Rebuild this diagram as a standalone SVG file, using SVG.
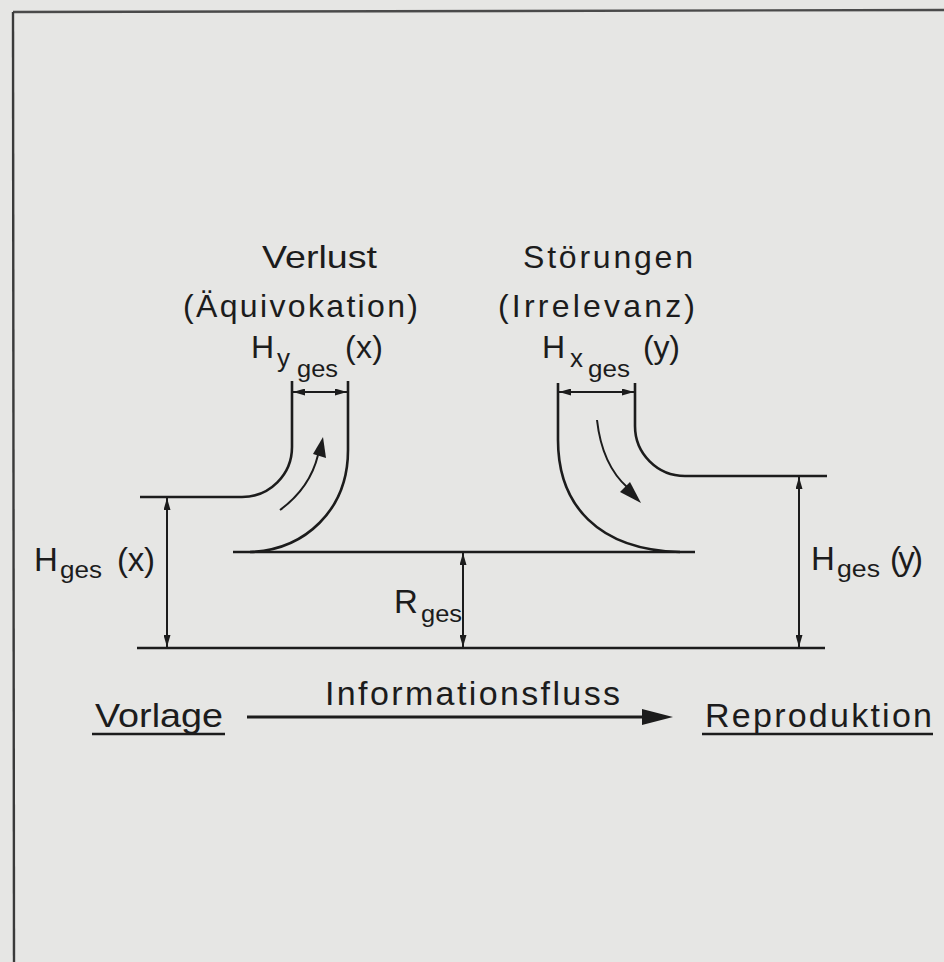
<svg xmlns="http://www.w3.org/2000/svg" width="944" height="962" viewBox="0 0 944 962">
<defs>
<style>
.ln{fill:none;stroke:#1c1c1c;stroke-width:2.6;stroke-linecap:butt}
.dim{fill:none;stroke:#1c1c1c;stroke-width:2}
.t{font-family:"Liberation Sans","DejaVu Sans",sans-serif;fill:#1c1c1c}
.m{font-size:32px}
.s{font-size:24px}
</style>
<marker id="ah" viewBox="0 0 12 7" refX="12" refY="3.5" markerWidth="12" markerHeight="7" markerUnits="userSpaceOnUse" orient="auto-start-reverse">
<path d="M0,0 L12,3.5 L0,7 z" fill="#1c1c1c"/>
</marker>
</defs>
<rect width="944" height="962" fill="#e6e6e4"/>
<g id="frame">
<path d="M13,12 L944,10" fill="none" stroke="#4a4a4a" stroke-width="2.4"/>
<path d="M13,12 L14,962" fill="none" stroke="#3a3a3a" stroke-width="2.4"/>
</g>
<g id="connectors">
<!-- left pipe (Verlust) -->
<path class="ln" d="M292,381 V447 A50 50 0 0 1 242 497 H140"/>
<path class="ln" d="M348,381 V450 C348,510 305,550 250,552"/>
<path class="ln" d="M233,552 H695"/>
<!-- right pipe (Störungen) -->
<path class="ln" d="M558,383 V440 C558,505 598,550 680,552"/>
<path class="ln" d="M635,383 V426 A50 50 0 0 0 685 476 H827"/>
<!-- bottom line -->
<path class="ln" d="M137,648 H825"/>
<!-- dimension arrows -->
<path class="dim" d="M293,392 H347" marker-start="url(#ah)" marker-end="url(#ah)"/>
<path class="dim" d="M559,392 H634" marker-start="url(#ah)" marker-end="url(#ah)"/>
<path class="dim" d="M167,498 V647" marker-start="url(#ah)" marker-end="url(#ah)"/>
<path class="dim" d="M463,553 V647" marker-start="url(#ah)" marker-end="url(#ah)"/>
<path class="dim" d="M799,477 V647" marker-start="url(#ah)" marker-end="url(#ah)"/>
<!-- flow arrows in pipes -->
<path class="dim" d="M280,510 Q310,488 318,455"/>
<path d="M323,437 L326,458 L313,454 z" fill="#1c1c1c"/>
<path class="dim" d="M597,420 Q602,465 628,488"/>
<path d="M641,503 L620,492 L630,482 z" fill="#1c1c1c"/>
<!-- information flow arrow -->
<path d="M247,717 H645" fill="none" stroke="#1c1c1c" stroke-width="3"/>
<path d="M642,709 L673,717 L642,725 z" fill="#1c1c1c"/>
</g>
<g id="verlust">
<text class="t m" x="262" y="268" textLength="115" lengthAdjust="spacingAndGlyphs">Verlust</text>
<text class="t m" x="183" y="317" textLength="235" lengthAdjust="spacing">(Äquivokation)</text>
<text class="t m" x="251" y="358">H</text>
<text class="t" x="277" y="367" font-size="26">y</text>
<text class="t s" x="297" y="377" textLength="41" lengthAdjust="spacingAndGlyphs">ges</text>
<text class="t m" x="345" y="358" textLength="38" lengthAdjust="spacing">(x)</text>
</g>
<g id="stoerungen">
<text class="t m" x="523" y="268" textLength="170" lengthAdjust="spacing">Störungen</text>
<text class="t m" x="498" y="317" textLength="197" lengthAdjust="spacing">(Irrelevanz)</text>
<text class="t m" x="542" y="358">H</text>
<text class="t" x="570" y="367" font-size="26">x</text>
<text class="t s" x="588" y="377" textLength="42" lengthAdjust="spacingAndGlyphs">ges</text>
<text class="t m" x="643" y="358" textLength="37" lengthAdjust="spacing">(y)</text>
</g>
<g id="hges-x">
<text class="t" x="34" y="571" font-size="33">H</text>
<text class="t s" x="60" y="578" textLength="42" lengthAdjust="spacingAndGlyphs">ges</text>
<text class="t" x="117" y="571" font-size="33" textLength="38" lengthAdjust="spacing">(x)</text>
</g>
<g id="rges">
<text class="t" x="394" y="613" font-size="33">R</text>
<text class="t s" x="421" y="622" textLength="41" lengthAdjust="spacingAndGlyphs">ges</text>
</g>
<g id="hges-y">
<text class="t" x="811" y="570" font-size="33">H</text>
<text class="t s" x="837" y="577" textLength="43" lengthAdjust="spacingAndGlyphs">ges</text>
<text class="t" x="890" y="570" font-size="33" textLength="33" lengthAdjust="spacing">(y)</text>
</g>
<g id="vorlage">
<text class="t" x="95" y="727" font-size="34" textLength="128" lengthAdjust="spacingAndGlyphs">Vorlage</text>
<path d="M92,734 H225" stroke="#1c1c1c" stroke-width="2.4"/>
</g>
<g id="informationsfluss">
<text class="t" x="325" y="705" font-size="34" textLength="295" lengthAdjust="spacing">Informationsfluss</text>
</g>
<g id="reproduktion">
<text class="t" x="705" y="727" font-size="34" textLength="227" lengthAdjust="spacing">Reproduktion</text>
<path d="M702,734 H933" stroke="#1c1c1c" stroke-width="2.4"/>
</g>
</svg>
